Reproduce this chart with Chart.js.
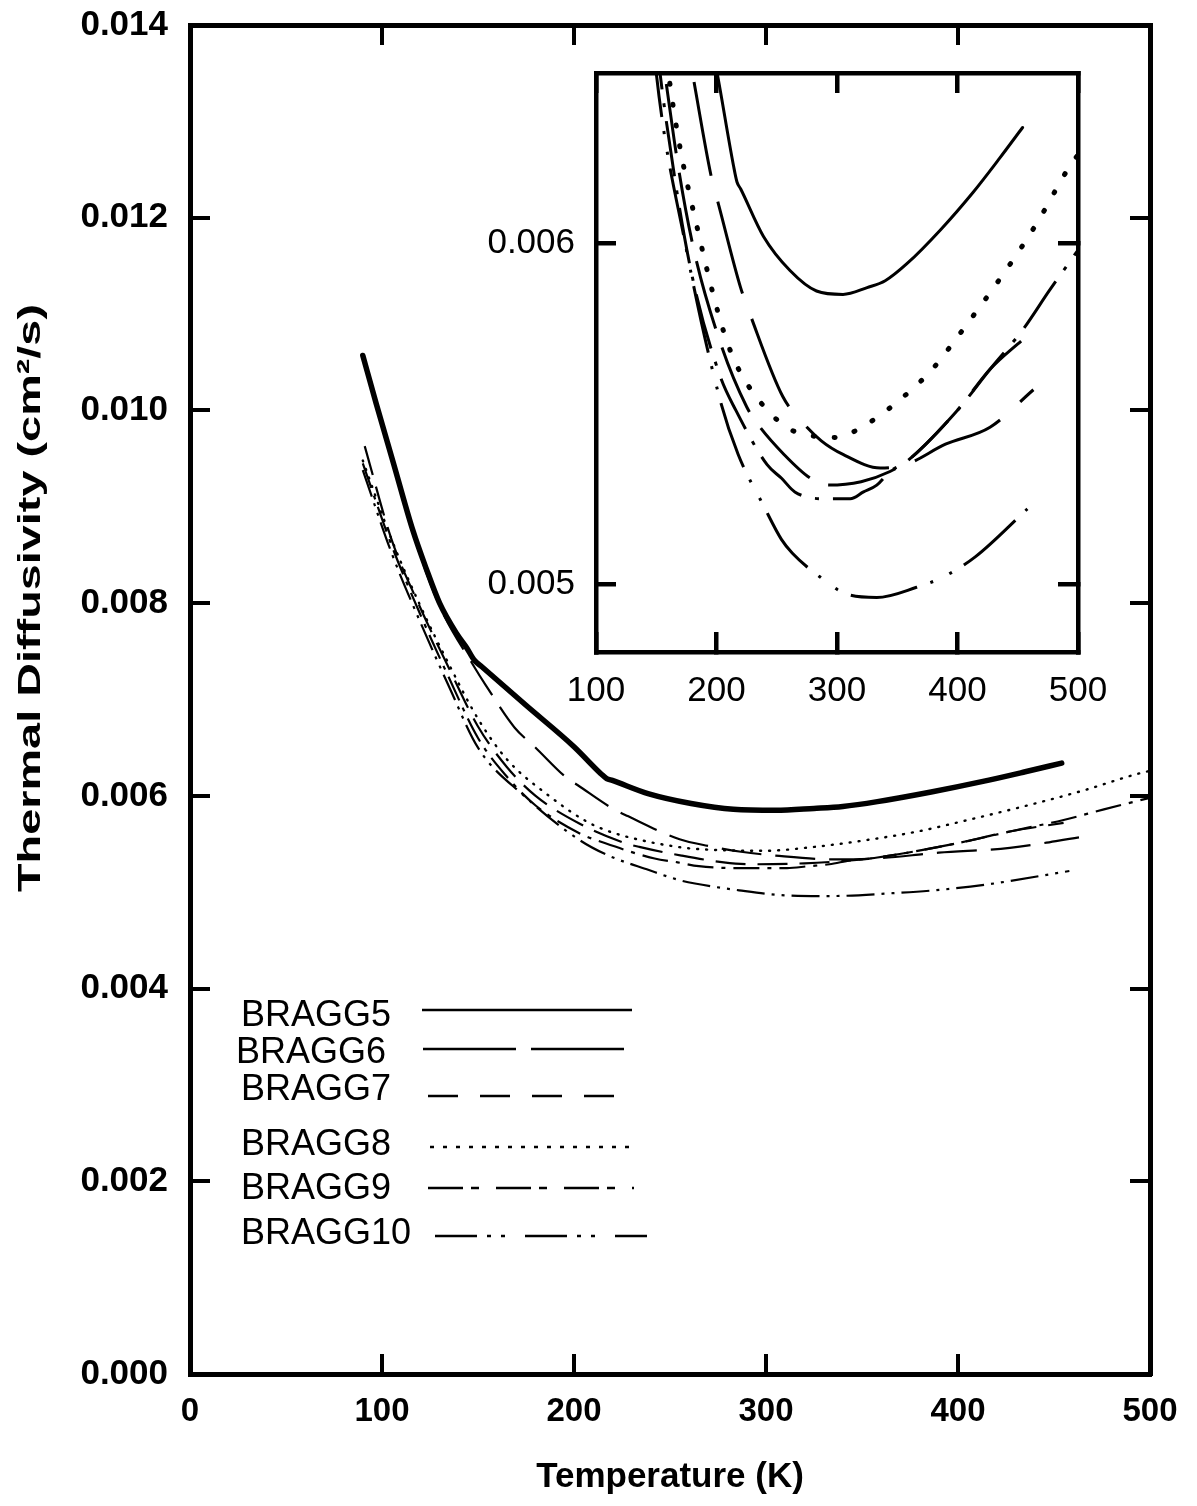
<!DOCTYPE html>
<html><head><meta charset="utf-8">
<script src="https://cdn.jsdelivr.net/npm/chart.js@4/dist/chart.umd.min.js"></script>
<style>
html,body{margin:0;padding:0;background:#fff;}
#wrap{position:relative;width:1197px;height:1506px;overflow:hidden;}
#main{position:absolute;left:0;top:0;}
#inset{position:absolute;left:440px;top:40px;}
</style></head><body>
<div id="wrap">
<canvas id="main" width="1197" height="1506"></canvas>
<canvas id="inset" width="700" height="700"></canvas>
</div>
<script>
// ---------------- data ----------------
const seriesNames = ['BRAGG5', 'BRAGG6', 'BRAGG7', 'BRAGG8', 'BRAGG9', 'BRAGG10'];

const tempB5 = [90, 97, 106, 116, 123, 130, 139, 144, 148, 152, 175, 200, 214, 217, 220, 239, 261, 283, 305, 325, 340, 358, 386, 413, 435, 454];
const diffB5 = [0.01057, 0.01007, 0.00945, 0.00876, 0.00836, 0.00800, 0.00768, 0.00754, 0.00741, 0.00734, 0.00694, 0.00651, 0.00623, 0.00618, 0.00616, 0.00602, 0.00592, 0.00586, 0.00585, 0.00587, 0.00589, 0.00594, 0.00604, 0.00615, 0.00625, 0.00634];

const tempB6 = [90, 97, 106, 116, 130, 148, 154, 169, 180, 196, 202, 220, 228, 255, 270, 287, 305, 336, 357, 390, 427, 463];
const diffB6 = [0.01055, 0.01004, 0.00942, 0.00873, 0.00797, 0.00734, 0.00715, 0.00671, 0.00650, 0.00619, 0.00611, 0.00587, 0.00579, 0.00555, 0.00548, 0.00542, 0.00538, 0.00534, 0.00535, 0.00541, 0.00546, 0.00557];

const tempB7 = [91, 105, 120, 135, 150, 165, 180, 203, 225, 234, 256, 278, 293, 320, 344, 358, 400, 427, 455];
const diffB7 = [0.00963, 0.00866, 0.00795, 0.00732, 0.00672, 0.00630, 0.00600, 0.00571, 0.00552, 0.00547, 0.00538, 0.00531, 0.00529, 0.00530, 0.00533, 0.00536, 0.00551, 0.00563, 0.00572];

const tempB8 = [90, 105, 120, 135, 150, 165, 187, 206, 217, 235, 258, 272, 299, 325, 352, 379, 401, 440, 466, 492, 500];
const diffB8 = [0.00948, 0.00866, 0.00797, 0.00736, 0.00680, 0.00638, 0.00600, 0.00574, 0.00564, 0.00554, 0.00546, 0.00544, 0.00543, 0.00547, 0.00554, 0.00563, 0.00573, 0.00592, 0.00606, 0.00622, 0.00626];

const tempB9 = [90, 105, 120, 135, 150, 165, 180, 203, 216, 242, 254, 265, 290, 311, 322, 333, 344, 358, 400, 427, 455, 476, 500];
const diffB9 = [0.00945, 0.00860, 0.00788, 0.00722, 0.00660, 0.00620, 0.00590, 0.00561, 0.00551, 0.00535, 0.00531, 0.00527, 0.00525, 0.00525, 0.00527, 0.00529, 0.00533, 0.00536, 0.00551, 0.00563, 0.00575, 0.00586, 0.00598];

const tempB10 = [90, 105, 120, 135, 150, 174, 203, 218, 239, 254, 263, 286, 308, 333, 366, 388, 415, 458];
const diffB10 = [0.00938, 0.00852, 0.00780, 0.00713, 0.00650, 0.00600, 0.00554, 0.00538, 0.00523, 0.00513, 0.00509, 0.00502, 0.00497, 0.00496, 0.00499, 0.00502, 0.00508, 0.00522];

const mainXTicks = [0, 100, 200, 300, 400, 500];
const mainYTicks = [0, 0.002, 0.004, 0.006, 0.008, 0.010, 0.012, 0.014];
const insetXTicks = [100, 200, 300, 400, 500];
const insetYTicks = [0.005, 0.006];

const xTitle = 'Temperature (K)';
const yTitle = 'Thermal Diffusivity (cm\u00B2/s)';

// ---------------- styles ----------------
const FONT = "'Liberation Sans', Arial, Helvetica, sans-serif";
const temps = [tempB5, tempB6, tempB7, tempB8, tempB9, tempB10];
const diffs = [diffB5, diffB6, diffB7, diffB8, diffB9, diffB10];

const mainStyle = [
  { w: 5.5, dash: [], cap: 'round' },
  { w: 2.2, dash: [40, 14], cap: 'butt' },
  { w: 2.2, dash: [30, 12], cap: 'butt' },
  { w: 2.4, dash: [1, 8], cap: 'round' },
  { w: 2.2, dash: [26, 8, 4, 8], cap: 'butt' },
  { w: 2.2, dash: [28, 7, 3, 7, 3, 7], cap: 'butt' }
];
const insetStyle = [
  { w: 3, dash: [], cap: 'round' },
  { w: 3, dash: [95, 27], cap: 'butt' },
  { w: 3, dash: [70, 20], cap: 'butt' },
  { w: 5, dash: [1, 20], cap: 'round' },
  { w: 3, dash: [56, 14, 4, 14], cap: 'butt' },
  { w: 3, dash: [68, 14, 3, 18, 3, 14], cap: 'butt' }
];
const legendDash = [[], [93, 15], [30, 22], [4, 9], [35, 8, 8, 17], [42, 10, 4, 10, 4, 20]];

function buildDatasets(style) {
  return seriesNames.map((name, i) => ({
    label: name,
    data: temps[i].map((t, k) => ({ x: t, y: diffs[i][k] })),
    borderColor: '#000',
    backgroundColor: '#000',
    borderWidth: style[i].w,
    borderDash: style[i].dash,
    borderCapStyle: style[i].cap,
    borderJoinStyle: 'round',
    pointRadius: 0,
    fill: false,
    cubicInterpolationMode: 'monotone',
    legendDash: legendDash[i]
  }));
}

function setTicks(list) {
  return (scale) => { scale.ticks = list.map(v => ({ value: v })); };
}

function frameAxis(pos, min, max, list, tickLen, lw, bw, size, extra) {
  const base = {
    type: 'linear', position: pos, min: min, max: max,
    afterBuildTicks: setTicks(list),
    grid: { drawOnChartArea: false, drawTicks: true, tickLength: -tickLen, lineWidth: lw, color: '#000' },
    border: { display: true, width: bw, color: '#000' },
    ticks: { display: false },
    afterFit: (s) => {
      if (pos === 'top' || pos === 'bottom') s.height = size; else s.width = size;
      s.paddingLeft = 0; s.paddingRight = 0; s.paddingTop = 0; s.paddingBottom = 0;
    }
  };
  return Object.assign(base, extra || {});
}

// ---------------- plugins ----------------
const manualLegend = {
  id: 'manualLegend',
  afterDraw(chart, args, o) {
    if (!o || !o.rows) return;
    const ctx = chart.ctx;
    ctx.save();
    chart.data.datasets.forEach((ds, i) => {
      const r = o.rows[i];
      ctx.font = o.font;
      ctx.fillStyle = '#000';
      ctx.textAlign = 'left';
      ctx.textBaseline = 'middle';
      ctx.fillText(ds.label, r.tx, r.ty);
      ctx.setLineDash(ds.legendDash || []);
      ctx.lineWidth = o.lineWidth;
      ctx.strokeStyle = '#000';
      ctx.lineCap = 'butt';
      ctx.beginPath();
      ctx.moveTo(r.x0, r.ly);
      ctx.lineTo(r.x1, r.ly);
      ctx.stroke();
    });
    ctx.restore();
  }
};

const sideTitle = {
  id: 'sideTitle',
  afterDraw(chart, args, o) {
    if (!o || !o.text) return;
    const ctx = chart.ctx;
    ctx.save();
    ctx.translate(o.x, o.y);
    ctx.rotate(-Math.PI / 2);
    ctx.font = o.font;
    ctx.fillStyle = '#000';
    ctx.textAlign = 'center';
    ctx.textBaseline = 'middle';
    const w = ctx.measureText(o.text).width;
    if (o.length) ctx.scale(o.length / w, 1);
    ctx.fillText(o.text, 0, 0);
    ctx.restore();
  }
};

const whiteArea = {
  id: 'whiteArea',
  beforeDraw(chart) {
    const a = chart.chartArea, ctx = chart.ctx;
    ctx.save(); ctx.fillStyle = '#fff';
    ctx.fillRect(a.left, a.top, a.right - a.left, a.bottom - a.top);
    ctx.restore();
  }
};

// ---------------- main chart ----------------
new Chart(document.getElementById('main'), {
  type: 'line',
  data: { datasets: buildDatasets(mainStyle) },
  plugins: [manualLegend, sideTitle],
  options: {
    responsive: false, animation: false, devicePixelRatio: 1,
    layout: { padding: { top: 25, right: 47, left: 0, bottom: 0 } },
    plugins: {
      legend: { display: false }, tooltip: { enabled: false },
      manualLegend: {
        font: "36px " + FONT, lineWidth: 2.5,
        rows: [
          { tx: 241, ty: 1016, x0: 422, x1: 632, ly: 1010 },
          { tx: 236, ty: 1053, x0: 423, x1: 634, ly: 1049 },
          { tx: 241, ty: 1090, x0: 428, x1: 631, ly: 1096 },
          { tx: 241, ty: 1145, x0: 430, x1: 632, ly: 1147 },
          { tx: 241, ty: 1189, x0: 428, x1: 634, ly: 1188 },
          { tx: 241, ty: 1234, x0: 435, x1: 647, ly: 1236 }
        ]
      },
      sideTitle: { text: yTitle, x: 31, y: 598, font: "bold 32px " + FONT, length: 588 }
    },
    scales: {
      x: frameAxis('bottom', 0, 500, mainXTicks, 20, 4, 5, 132, {
        ticks: { display: true, color: '#000', font: { family: FONT, size: 33, weight: 'bold' }, padding: 38, maxRotation: 0, autoSkip: false },
        title: { display: true, text: xTitle, color: '#000', font: { family: FONT, size: 35, weight: 'bold' }, padding: { top: 0, bottom: 8 } }
      }),
      xTop: frameAxis('top', 0, 500, mainXTicks, 20, 4, 5, 0),
      y: frameAxis('left', 0, 0.014, mainYTicks, 20, 4, 5, 190, {
        ticks: { display: true, color: '#000', font: { family: FONT, size: 35, weight: 'bold' }, padding: 42, autoSkip: false, callback: (v) => Number(v).toFixed(3) }
      }),
      yRight: frameAxis('right', 0, 0.014, mainYTicks, 20, 4, 5, 0)
    }
  }
});

// ---------------- inset chart ----------------
const insetTickFont = { family: FONT, size: 35, weight: 'normal' };
new Chart(document.getElementById('inset'), {
  type: 'line',
  data: { datasets: buildDatasets(insetStyle) },
  plugins: [whiteArea],
  options: {
    responsive: false, animation: false, devicePixelRatio: 1,
    layout: { padding: { top: 33, right: 62, left: 0, bottom: 0 } },
    plugins: { legend: { display: false }, tooltip: { enabled: false } },
    scales: {
      x: frameAxis('bottom', 100, 500, insetXTicks, 20, 4.5, 4.5, 88, {
        ticks: { display: true, color: '#000', font: insetTickFont, padding: 38, maxRotation: 0, autoSkip: false }
      }),
      xTop: frameAxis('top', 100, 500, insetXTicks, 20, 4.5, 4.5, 0),
      y: frameAxis('left', 0.0048, 0.0065, insetYTicks, 20, 4.5, 4.5, 156, {
        ticks: { display: true, color: '#000', font: insetTickFont, padding: 41, autoSkip: false, callback: (v) => Number(v).toFixed(3) }
      }),
      yRight: frameAxis('right', 0.0048, 0.0065, insetYTicks, 20, 4.5, 4.5, 0)
    }
  }
});
</script>
</body></html>
